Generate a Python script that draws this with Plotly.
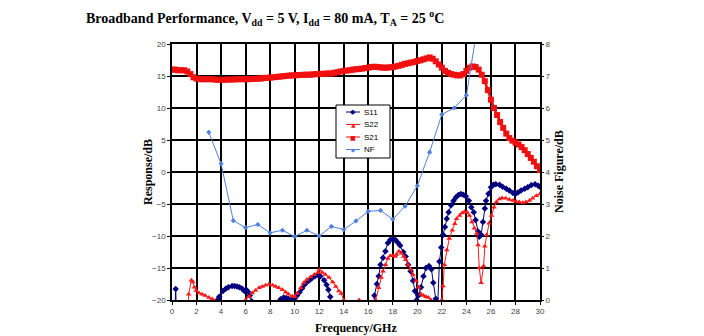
import plotly.graph_objects as go

# ---------------- data ----------------
S11_freq = [0.1, 0.3, 0.5,
            3.5, 3.7, 3.85, 4.15, 4.4, 4.6, 4.9, 5.1, 5.3, 5.5, 5.7, 5.9, 6.05, 6.2, 6.35, 6.5, 6.7,
            8.5, 8.85, 9.1, 9.3, 9.5, 9.75, 10.0, 10.2, 10.4, 10.6, 10.8, 11.0, 11.2, 11.4, 11.65, 11.9,
            12.1, 12.4, 12.6, 12.75, 12.9, 13.0, 13.2,
            16.3, 16.5, 16.7, 16.85, 17.0, 17.2, 17.4, 17.6, 17.8, 18.0, 18.2, 18.4, 18.6, 18.85, 19.05,
            19.25, 19.45, 19.65, 19.8, 19.95, 20.1, 20.3, 20.5, 20.7, 20.95, 21.15, 21.3, 21.5, 21.65,
            21.8, 21.95, 22.1, 22.25, 22.4, 22.55, 22.75, 22.95, 23.15, 23.35, 23.55, 23.75, 23.95,
            24.2, 24.4, 24.6, 24.75, 24.95, 25.05, 25.2, 25.35, 25.5, 25.6, 25.8, 26.0, 26.2, 26.4,
            26.7, 26.95, 27.25, 27.5, 27.8, 28.0, 28.2, 28.45, 28.75, 29.0, 29.3, 29.6, 29.85, 30.0]
S11_db = [-30, -18.3, -30,
          -22, -20.0, -19.5, -18.6, -18.2, -18.0, -17.8, -17.8, -17.9, -18.0, -18.2, -18.6, -18.4, -18.7, -19.3, -20.2, -23,
          -23, -19.9, -19.6, -19.7, -19.8, -19.9, -19.8, -19.3, -18.8, -18.2, -17.6, -17.2, -16.9, -16.6, -16.3, -16.1,
          -16.3, -16.9, -17.6, -18.4, -19.5, -20.5, -25,
          -25, -19.3, -17.5, -16.3, -14.5, -13.4, -12.4, -11.1, -10.6, -10.5, -10.6, -11.0, -11.5, -12.5, -13.2,
          -14.5, -15.5, -17.0, -18.6, -20.0, -19.3, -18.0, -16.3, -15.0, -14.7, -15.2, -17.3, -19.8, -21.5,
          -14.0, -11.8, -9.8, -8.6, -7.3, -6.3, -5.2, -4.5, -3.95, -3.6, -3.45, -3.55, -3.8,
          -4.5, -5.5, -6.3, -7.5, -9.3, -10.1, -9.8, -7.8, -5.7, -4.5, -3.4, -2.4, -2.0, -1.9,
          -2.0, -2.3, -2.6, -2.9, -3.3, -3.4, -3.2, -2.9, -2.6, -2.4, -2.05, -1.9, -2.15, -2.3]

S22_freq = [1.25, 1.36, 1.58, 1.7, 1.83, 1.96, 2.2, 2.45, 2.7, 3.0, 3.27, 3.5, 3.7,
            5.8, 6.0, 6.27, 6.54, 6.8, 7.1, 7.36, 7.63, 7.9, 8.2, 8.45, 8.7, 9.0, 9.27, 9.5, 9.8, 10.0,
            10.2, 10.5, 10.75, 11.0, 11.3, 11.6, 11.9, 12.0, 12.25, 12.5, 12.8, 13.1, 13.35, 13.6, 13.8,
            14.0, 14.2,
            15.1, 15.25, 15.4,
            16.45, 16.6, 16.85, 17.05, 17.2, 17.4, 17.6, 17.8, 18.0, 18.2, 18.3, 18.5, 18.7, 18.9, 19.05,
            19.25, 19.45, 19.65, 19.9, 20.1, 20.3, 20.5, 20.7, 20.9, 21.1, 21.3,
            21.85, 22.0, 22.1, 22.2, 22.4, 22.6, 22.85, 23.05, 23.2, 23.45, 23.65, 23.85, 24.05, 24.25,
            24.45, 24.65, 24.85, 24.95, 25.05, 25.2, 25.4, 25.5, 25.65, 25.85, 26.05, 26.25, 26.45,
            26.7, 26.9, 27.2, 27.5, 27.8, 28.05, 28.3, 28.6, 28.85, 29.15, 29.4, 29.7, 30.0]
S22_db = [-25, -19.1, -16.9, -17.2, -18.0, -18.5, -18.9, -19.1, -19.3, -19.6, -19.85, -20.1, -22,
          -22, -20.0, -19.5, -18.9, -18.5, -18.1, -17.9, -17.7, -17.55, -17.7, -17.9, -18.1, -18.4, -18.8, -19.1, -19.4, -19.5,
          -19.0, -18.1, -17.3, -16.8, -16.4, -16.0, -15.7, -15.3, -15.7, -16.0, -16.5, -17.2, -17.9, -18.6, -19.0,
          -20.0, -22,
          -22, -20.0, -22,
          -23, -20.0, -18.1, -16.5, -15.5, -14.5, -13.5, -13.1, -13.1, -13.2, -12.9, -12.4, -12.7, -13.2, -13.7,
          -14.5, -15.2, -16.0, -17.0, -18.0, -19.1, -19.3, -19.5, -19.6, -20.0, -22,
          -23, -20.0, -17.8, -14.5, -12.2, -10.4, -9.1, -8.1, -7.3, -6.8, -6.4, -6.2, -6.3, -6.8,
          -7.8, -8.8, -9.6, -11.4, -15.0, -17.3, -14.7, -11.6, -9.8, -8.0, -6.8, -5.5, -4.7,
          -4.2, -4.05, -4.1, -4.3, -4.45, -4.6, -4.7, -4.8, -4.7, -4.45, -4.1, -3.7, -3.45]

S21_freq = [i * 0.25 for i in range(121)]
S21_db = [16.0, 16.0, 15.9, 15.9, 15.9, 15.7, 15.3, 14.8, 14.6, 14.5,
          14.5, 14.5, 14.5, 14.5, 14.45, 14.4, 14.4, 14.4, 14.45, 14.45,
          14.45, 14.5, 14.5, 14.5, 14.5, 14.5, 14.55, 14.55, 14.6, 14.6,
          14.7, 14.7, 14.75, 14.8, 14.85, 14.9, 14.95, 15.0, 15.05, 15.1,
          15.1, 15.15, 15.15, 15.2, 15.2, 15.2, 15.25, 15.3, 15.3, 15.35,
          15.35, 15.4, 15.4, 15.5, 15.6, 15.7, 15.8, 15.85, 15.9, 16.0,
          16.05, 16.1, 16.15, 16.25, 16.3, 16.4, 16.45, 16.4, 16.35, 16.3,
          16.3, 16.35, 16.4, 16.5, 16.6, 16.75, 16.9, 17.0, 17.1, 17.2,
          17.35, 17.45, 17.6, 17.75, 17.9, 17.7, 17.3, 16.8, 16.3, 15.8,
          15.5, 15.3, 15.2, 15.1, 15.1, 15.3, 15.8, 16.3, 16.5, 16.4,
          16.0, 15.2, 14.2, 12.8, 11.3, 10.0, 8.9, 7.8, 6.9, 6.0,
          5.3, 4.9, 4.6, 4.3, 3.9, 3.4, 2.8, 2.2, 1.6, 0.9, 0.3]

NF_freq = [3, 4, 5, 6, 7, 8, 9, 10, 11, 12, 13, 14, 15, 16, 17, 18, 19, 20, 21, 22, 23, 24, 25]
NF_db = [5.24, 4.26, 2.48, 2.26, 2.36, 2.1, 2.18, 1.98, 2.18, 2.0, 2.3, 2.2, 2.47, 2.77, 2.8, 2.52,
         2.93, 3.57, 4.62, 5.8, 6.0, 6.4, 8.8]

series_names = ["S11", "S22", "S21", "NF"]
x_ticks = list(range(0, 31, 2))
y_ticks = [-20, -15, -10, -5, 0, 5, 10, 15, 20]
y2_ticks = [0, 1, 2, 3, 4, 5, 6, 7, 8]

# ---------------- styles ----------------
NAVY = "#000080"
RED = "#ff1a1a"
RED2 = "#f01010"
BLUE = "#4f80e0"
colors = [NAVY, RED, RED2, BLUE]
glyphs = ["\u25c6", "\u25b2", "\u25a0", "\u25c6"]
glyph_sizes = [7, 6, 6, 5]

fig = go.Figure()
fig.add_trace(go.Scatter(x=S11_freq, y=S11_db, name="S11", mode="lines+markers",
                         line=dict(color=NAVY, width=1),
                         marker=dict(symbol="diamond", size=5, color=NAVY)))
fig.add_trace(go.Scatter(x=S22_freq, y=S22_db, name="S22", mode="lines+markers",
                         line=dict(color=RED, width=1),
                         marker=dict(symbol="triangle-up", size=5, color=RED)))
fig.add_trace(go.Scatter(x=S21_freq, y=S21_db, name="S21", mode="lines+markers",
                         line=dict(color=RED2, width=2.5),
                         marker=dict(symbol="square", size=6, color=RED2)))
fig.add_trace(go.Scatter(x=NF_freq, y=NF_db, name="NF", mode="lines+markers", yaxis="y2",
                         line=dict(color=BLUE, width=1),
                         marker=dict(symbol="diamond", size=4, color=BLUE)))

tickfont = dict(family="Liberation Sans, Arial", size=8, color="#444")
axtitle = dict(family="Liberation Serif, Times New Roman", size=12, color="black")

# plot area in pixels
L, R, T, B = 172, 540, 44, 300
W, H = R - L, B - T


def px(xp):
    return (xp - L) / W


def py(yp):
    return (B - yp) / H


fig.update_layout(
    width=704, height=336,
    margin=dict(l=L, r=704 - R, t=T, b=336 - B),
    paper_bgcolor="white", plot_bgcolor="white",
    showlegend=False,
    title=dict(text="<b>Broadband Performance, V<sub>dd</sub> = 5 V, I<sub>dd</sub> = 80 mA, "
                    "T<sub>A</sub> = 25 <sup>o</sup>C</b>",
               font=dict(family="Liberation Serif, Times New Roman", size=14, color="black"),
               x=86 / 704, xanchor="left", xref="container",
               y=1 - 18 / 336, yanchor="middle", yref="container"),
    xaxis=dict(range=[0, 30], tickvals=x_ticks, showgrid=True, gridcolor="black", gridwidth=1.6,
               showline=True, linecolor="black", linewidth=1.6, mirror=True,
               ticks="outside", ticklen=3, tickcolor="black", tickfont=tickfont, zeroline=False),
    yaxis=dict(range=[-20, 20], tickvals=y_ticks, showgrid=True, gridcolor="black", gridwidth=1.6,
               showline=True, linecolor="black", linewidth=1.6, mirror=True,
               ticks="outside", ticklen=3, tickcolor="black", tickfont=tickfont, zeroline=False),
    yaxis2=dict(range=[0, 8], tickvals=y2_ticks, overlaying="y", side="right", showgrid=False,
                ticks="outside", ticklen=3, tickcolor="black", tickfont=tickfont, zeroline=False,
                showline=False),
)

# ---- legend box (drawn like the reference's compact legend) ----
fig.add_shape(type="rect", xref="paper", yref="paper",
              x0=px(336), x1=px(390), y0=py(158), y1=py(105),
              line=dict(color="black", width=1), fillcolor="white", layer="above")
entry_y = [112, 124.5, 137, 149.5]
for name, col, gl, gs, yy in zip(series_names, colors, glyphs, glyph_sizes, entry_y):
    fig.add_shape(type="line", xref="paper", yref="paper",
                  x0=px(346), x1=px(360), y0=py(yy), y1=py(yy),
                  line=dict(color=col, width=1), layer="above")
    fig.add_annotation(text=gl, xref="paper", yref="paper", x=px(353), y=py(yy),
                       showarrow=False, xanchor="center", yanchor="middle",
                       font=dict(family="DejaVu Sans", size=gs, color=col))
    fig.add_annotation(text=name, xref="paper", yref="paper", x=px(362), y=py(yy),
                       showarrow=False, xanchor="left", yanchor="middle",
                       font=dict(family="Liberation Sans, Arial", size=8, color="black"))

# ---- axis titles ----
fig.add_annotation(text="<b>Response/dB</b>", xref="paper", yref="paper",
                   x=px(148), y=0.5, textangle=-90, showarrow=False,
                   xanchor="center", yanchor="middle", font=axtitle)
fig.add_annotation(text="<b>Frequency/GHz</b>", xref="paper", yref="paper",
                   x=0.5, y=py(328), showarrow=False,
                   xanchor="center", yanchor="middle", font=axtitle)
fig.add_annotation(text="<b>Noise Figure/dB</b>", xref="paper", yref="paper",
                   x=px(559), y=0.5, textangle=-90, showarrow=False,
                   xanchor="center", yanchor="middle", font=axtitle)

fig.write_html("out.html")
